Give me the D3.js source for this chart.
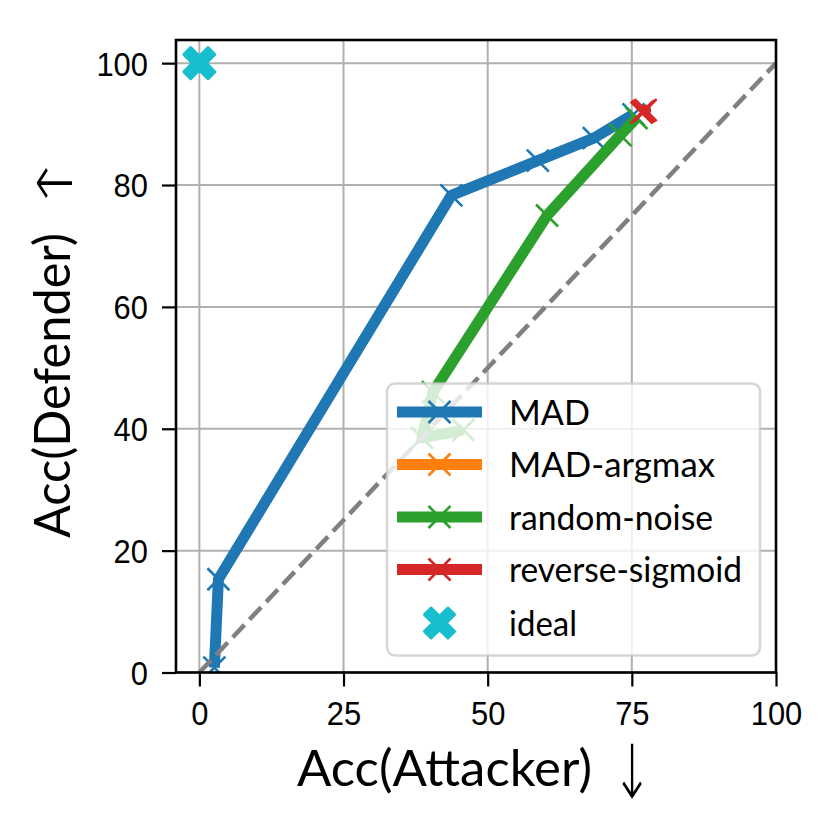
<!DOCTYPE html>
<html>
<head>
<meta charset="utf-8">
<script src="https://cdn.jsdelivr.net/npm/d3@7"></script>
<style>
  html, body { margin: 0; padding: 0; background: #fff; }
  svg { display: block; font-family: Lato, "Open Sans", sans-serif; }
</style>
</head>
<body>
<svg id="chart" width="831" height="827"></svg>
<script>
// Attacker vs defender accuracy trade-off, one line per defence.

const seriesNames = ['MAD', 'MAD-argmax', 'random-noise', 'reverse-sigmoid'];
const seriesColors = ['#1f77b4', '#ff7f0e', '#2ca02c', '#d62728'];

// [attacker acc, defender acc]
const madPoints = [[2.6, 0.8], [3.3, 15.3], [43.7, 78.3], [58.7, 84.0], [68.4, 87.7], [75.3, 91.6]];
const madArgmaxPoints = [[77.1, 92.1]];
const randomNoisePoints = [[45.8, 39.8], [38.6, 38.5], [40.5, 46.0], [60.3, 75.0], [73.0, 88.2], [75.8, 91.0]];
const reverseSigmoidPoints = [[76.7, 91.9], [77.4, 92.3], [77.0, 92.1]];
const idealPoint = [0, 100];
const diagonal = [[0, 0], [100, 100]];

const xTicks = [0, 25, 50, 75, 100];
const yTicks = [0, 20, 40, 60, 80, 100];
const xLabel = 'Acc(Attacker)';
const yLabel = 'Acc(Defender)';

const allSeries = [madPoints, madArgmaxPoints, randomNoisePoints, reverseSigmoidPoints];

const svg = d3.select('#chart');
const plot = { left: 176, right: 776, top: 40, bottom: 672.5 };

const x = d3.scaleLinear().domain([-4.05, 100]).range([plot.left, plot.right]);
const y = d3.scaleLinear().domain([0, 103.8]).range([plot.bottom, plot.top]);

svg.append('defs').append('clipPath').attr('id', 'clip')
  .append('rect')
  .attr('x', plot.left).attr('y', plot.top)
  .attr('width', plot.right - plot.left).attr('height', plot.bottom - plot.top);

// grid
const grid = svg.append('g').attr('class', 'grid');
grid.selectAll('.gx').data(xTicks).join('line')
  .attr('x1', (d) => x(d)).attr('x2', (d) => x(d))
  .attr('y1', plot.top).attr('y2', plot.bottom)
  .attr('stroke', '#b0b0b0').attr('stroke-width', 2);
grid.selectAll('.gy').data(yTicks).join('line')
  .attr('y1', (d) => y(d)).attr('y2', (d) => y(d))
  .attr('x1', plot.left).attr('x2', plot.right)
  .attr('stroke', '#b0b0b0').attr('stroke-width', 2);

const marks = svg.append('g').attr('clip-path', 'url(#clip)');
const line = d3.line().x((d) => x(d[0])).y((d) => y(d[1]));

const xMarker = (g, cx, cy, color, r = 11) => {
  g.append('path')
    .attr('d', `M${cx - r},${cy - r}L${cx + r},${cy + r}M${cx - r},${cy + r}L${cx + r},${cy - r}`)
    .attr('stroke', color).attr('stroke-width', 2.6).attr('fill', 'none');
};

allSeries.forEach((pts, i) => {
  const g = marks.append('g');
  g.append('path').datum(pts)
    .attr('d', line)
    .attr('fill', 'none')
    .attr('stroke', seriesColors[i])
    .attr('stroke-width', 11)
    .attr('stroke-linejoin', 'round');
  pts.forEach((p) => xMarker(g, x(p[0]), y(p[1]), seriesColors[i]));
});

marks.append('path').datum(diagonal)
  .attr('d', line)
  .attr('fill', 'none')
  .attr('stroke', '#808080')
  .attr('stroke-width', 4.5)
  .attr('stroke-dasharray', '17,7.3');

// filled "X" marker (matplotlib 'X')
const filledX = (cx, cy, s) => {
  const a = s * 0.5, b = s * 0.22;
  const pts = [
    [-a + b, -a], [0, -b], [a - b, -a], [a, -a + b], [b, 0], [a, a - b],
    [a - b, a], [0, b], [-a + b, a], [-a, a - b], [-b, 0], [-a, -a + b],
  ];
  return 'M' + pts.map((p) => `${cx + p[0]},${cy + p[1]}`).join('L') + 'Z';
};
marks.append('path')
  .attr('d', filledX(x(idealPoint[0]), y(idealPoint[1]), 31))
  .attr('fill', '#17becf')
  .attr('stroke', '#17becf').attr('stroke-width', 3).attr('stroke-linejoin', 'round');

// axes
const xAxis = svg.append('g')
  .attr('transform', `translate(0,${plot.bottom})`)
  .call(d3.axisBottom(x).tickValues(xTicks).tickSize(14).tickSizeOuter(0));
const yAxis = svg.append('g')
  .attr('transform', `translate(${plot.left},0)`)
  .call(d3.axisLeft(y).tickValues(yTicks).tickSize(14).tickSizeOuter(0));

[xAxis, yAxis].forEach((a) => {
  a.select('.domain').remove();
  a.selectAll('.tick line').attr('stroke', '#000').attr('stroke-width', 2.2);
  a.selectAll('.tick text')
    .attr('fill', '#000')
    .style('font-size', '34px')
    .attr('textLength', function () { return this.textContent.length * 17.2; })
    .attr('lengthAdjust', 'spacingAndGlyphs');
});
xAxis.selectAll('.tick text').attr('y', 52.5).attr('dy', 0);
yAxis.selectAll('.tick text').attr('x', -28).attr('dy', '0.35em');

// spines
svg.append('rect')
  .attr('x', plot.left).attr('y', plot.top)
  .attr('width', plot.right - plot.left).attr('height', plot.bottom - plot.top)
  .attr('fill', 'none').attr('stroke', '#000').attr('stroke-width', 2.6);

// axis labels
svg.append('text')
  .attr('x', 297).attr('y', 786)
  .attr('textLength', 295).attr('lengthAdjust', 'spacingAndGlyphs')
  .style('font-size', '50px')
  .text(xLabel);
svg.append('text')
  .attr('transform', 'translate(632,772) scale(1,1.55)')
  .attr('text-anchor', 'middle').attr('dy', '0.35em')
  .style('font-family', '"DejaVu Sans"').style('font-size', '48px').style('font-weight', 200)
  .text('↓');

svg.append('text')
  .attr('transform', 'translate(70,538) rotate(-90)')
  .attr('textLength', 305).attr('lengthAdjust', 'spacingAndGlyphs')
  .style('font-size', '50px')
  .text(yLabel);
svg.append('text')
  .attr('transform', 'translate(55,183) rotate(-90) scale(1.55,1)')
  .attr('text-anchor', 'middle').attr('dy', '0.35em')
  .style('font-family', '"DejaVu Sans"').style('font-size', '48px').style('font-weight', 200)
  .text('↑');

// legend
const legendWidths = [81, 206, 204, 233, 68];
const legend = svg.append('g');
legend.append('rect')
  .attr('x', 387).attr('y', 383.5).attr('width', 373).attr('height', 272).attr('rx', 8)
  .attr('fill', '#fff').attr('fill-opacity', 0.8)
  .attr('stroke', '#cccccc').attr('stroke-opacity', 0.8).attr('stroke-width', 2.5);

const rowY = (i) => 412 + i * 52.5;
seriesNames.forEach((name, i) => {
  const g = legend.append('g');
  g.append('line')
    .attr('x1', 397).attr('x2', 482).attr('y1', rowY(i)).attr('y2', rowY(i))
    .attr('stroke', seriesColors[i]).attr('stroke-width', 11);
  xMarker(g, 439.5, rowY(i), seriesColors[i]);
  g.append('text')
    .attr('x', 509).attr('y', rowY(i)).attr('dy', '0.36em')
    .attr('textLength', legendWidths[i]).attr('lengthAdjust', 'spacingAndGlyphs')
    .style('font-size', '35px')
    .text(name);
});
legend.append('path')
  .attr('d', filledX(439.5, 623, 30))
  .attr('fill', '#17becf')
  .attr('stroke', '#17becf').attr('stroke-width', 3).attr('stroke-linejoin', 'round');
legend.append('text')
  .attr('x', 509).attr('y', 623).attr('dy', '0.36em')
  .attr('textLength', legendWidths[4]).attr('lengthAdjust', 'spacingAndGlyphs')
  .style('font-size', '35px')
  .text('ideal');
</script>
</body>
</html>
